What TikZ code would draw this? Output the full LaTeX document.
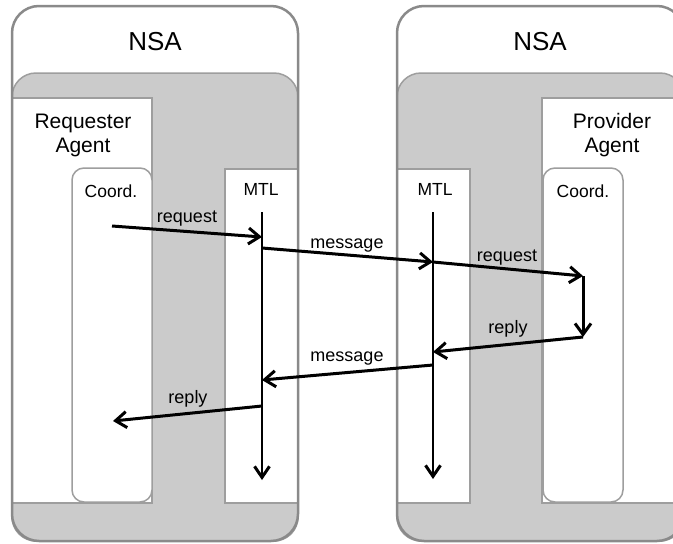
\documentclass[tikz,border=0pt]{standalone}
\usepackage{fontspec}
\setmainfont{Liberation Sans}
\usepackage{color}
\usetikzlibrary{calc, arrows, shapes, arrows.meta, positioning}
\definecolor{nsagray}{HTML}{CBCBCB}
\definecolor{framegray}{HTML}{8A8A8A}
\definecolor{boxgray}{HTML}{9E9E9E}
\tikzset{>=latex}
\tikzset{
  nsaframe/.style = {draw = framegray, line width = 2.5pt, rounded corners = 27pt},
  nsabody/.style = {fill = nsagray, draw = boxgray, line width = 1.5pt, rounded corners = 24pt},
  agentbox/.style = {fill = white, draw = boxgray, line width = 1.5pt},
  coordbox/.style = {agentbox, rounded corners = 12pt},
  lifeline/.style = {line width = 1.5pt, -{Straight Barb[length = 11pt, width = 15pt, line width = 3pt]}},
  msg/.style = {line width = 3pt, -{Straight Barb[length = 11pt, width = 16pt]}},
  nsatitle/.style = {anchor = base, font = \fontsize{26}{28}\selectfont},
  agenttitle/.style = {align = center, font = \fontsize{21}{24}\selectfont},
  parttitle/.style = {anchor = base, font = \fontsize{17.5}{20}\selectfont},
  msglabel/.style = {anchor = base, font = \fontsize{18}{20}\selectfont}
}

\begin{document}
\begin{tikzpicture}[x = 1pt, y = -1pt]
\useasboundingbox (0,0) rectangle (673,544);
% requester side
\begin{scope}
\fill[white, rounded corners = 27pt] (12,6) rectangle (298,541);
\draw[nsabody] (12,73) rectangle (298,541);
\draw[agentbox] (12,98) rectangle (152,503);
\draw[agentbox] (225,169) rectangle (298,503);
\draw[coordbox] (72,168) rectangle (152,502);
\draw[nsaframe] (12,6) rectangle (298,541);
\node[nsatitle] (nsaL) at (155,50) {NSA};
\node[agenttitle] (requester) at (83,135) {Requester\\Agent};
\node[parttitle] (coordL) at (111,197) {Coord.};
\node[parttitle] (mtlL) at (261,195) {MTL};
\coordinate (ltop) at (262,212);
\coordinate (lbot) at (262,480);
\coordinate (lcA) at (112,226);
\coordinate (lmA) at (262,237);
\coordinate (lmB) at (262,248);
\coordinate (lmC) at (262,380);
\coordinate (lmD) at (262,406);
\coordinate (lcB) at (113,421);
\end{scope}
% provider side
\begin{scope}[xshift = 385pt]
\fill[white, rounded corners = 27pt] (12,6) rectangle (299,541);
\draw[nsabody] (12,73) rectangle (299,541);
\draw[agentbox] (157,98) rectangle (299,503);
\draw[agentbox] (12,169) rectangle (85,503);
\draw[coordbox] (158,168) rectangle (238,502);
\draw[nsaframe] (12,6) rectangle (299,541);
\node[nsatitle] (nsaR) at (155,50) {NSA};
\node[agenttitle] (provider) at (227,135) {Provider\\Agent};
\node[parttitle] (coordR) at (198,197) {Coord.};
\node[parttitle] (mtlR) at (50,195) {MTL};
\coordinate (rtop) at (48,212);
\coordinate (rbot) at (48,479);
\coordinate (rmA) at (48,262);
\coordinate (rcA) at (198,276);
\coordinate (rcB) at (198,337);
\coordinate (rmB) at (48,352);
\coordinate (rmC) at (48,365);
\end{scope}
% lifelines
\draw[lifeline] (ltop) -- (lbot);
\draw[lifeline] (rtop) -- (rbot);
% messages
\draw[msg] (lcA) -- (lmA);
\draw[msg] (lmB) -- (rmA);
\draw[msg] (rmA) -- (rcA);
\draw[msg] (rcA) -- (rcB);
\draw[msg] (rcB) -- (rmB);
\draw[msg] (rmC) -- (lmC);
\draw[msg] (lmD) -- (lcB);
\node[msglabel] (reqL) at (187,222) {request};
\node[msglabel] (msgTop) at (347,248) {message};
\node[msglabel] (reqR) at (507,261) {request};
\node[msglabel] (repR) at (508,333) {reply};
\node[msglabel] (msgBot) at (347,361) {message};
\node[msglabel] (repL) at (188,403) {reply};
\end{tikzpicture}
\end{document}
